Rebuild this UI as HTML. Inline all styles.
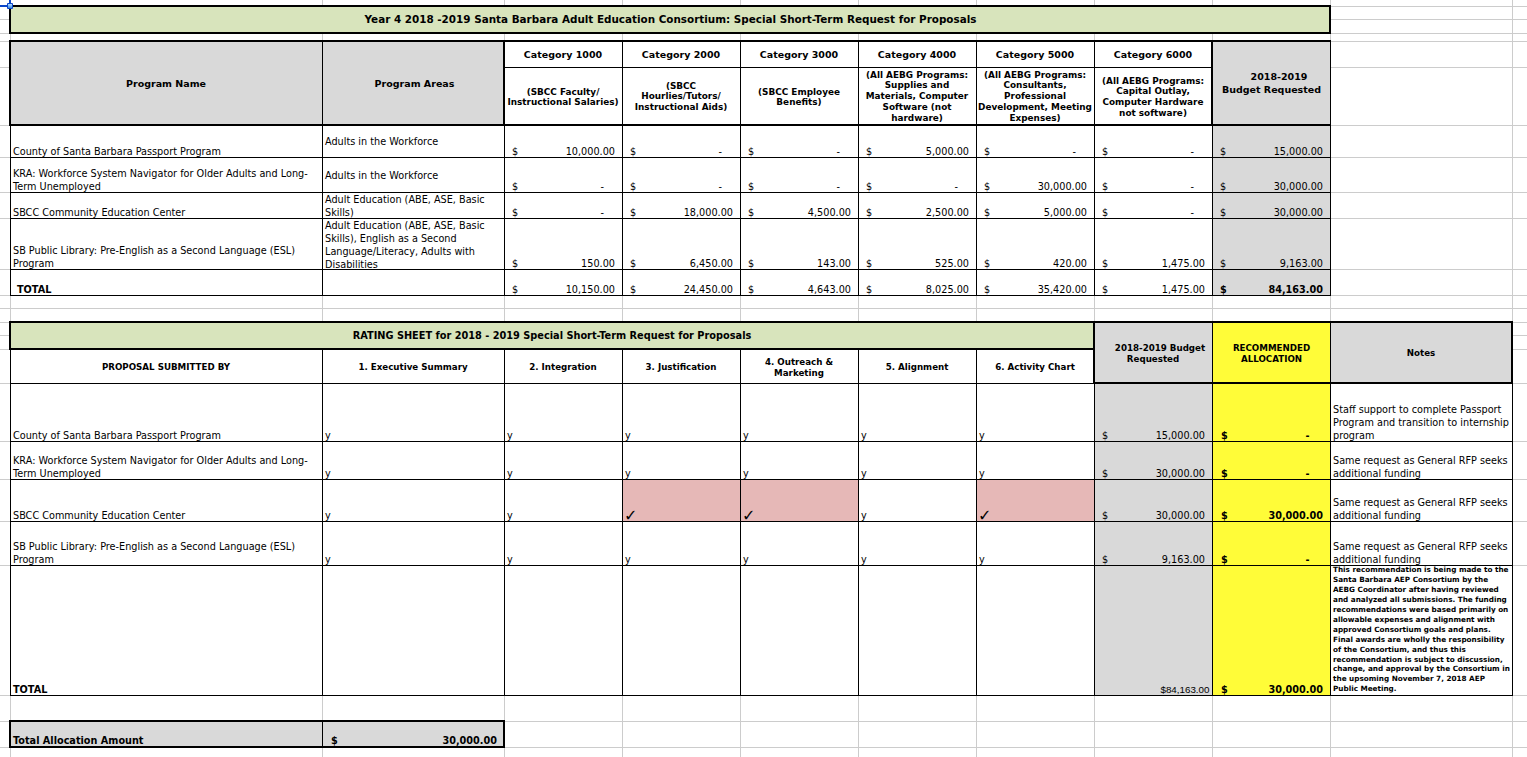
<!DOCTYPE html>
<html><head><meta charset="utf-8"><title>Rating Sheet</title><style>
*{margin:0;padding:0;box-sizing:border-box}
html,body{width:1527px;height:757px;overflow:hidden;background:#fff}
body{position:relative;font-family:"DejaVu Sans", "Liberation Sans", sans-serif;color:#000}
.r{position:absolute}
.t{position:absolute;white-space:pre;}
.t1{font-weight:bold;font-size:10.4px}
.t2{font-weight:bold;font-size:9.78px}
.bh{font-weight:bold;font-size:9.5px}
.bd{font-weight:bold;font-size:8.9px}
.bs{font-weight:bold;font-size:8.7px}
.rg{font-weight:normal;font-size:9.7px}
.bb{font-weight:bold;font-size:9.7px}
.sm{font-weight:bold;font-size:7.25px}
.ck{font-weight:bold;font-size:16px}
.nr{font-weight:normal;font-size:9.8px}
.nr{font-family:"Liberation Sans",sans-serif}</style></head>
<body>
<div class="r" style="left:0px;top:6px;width:1527px;height:1px;background:#cccccc"></div><div class="r" style="left:0px;top:19px;width:1527px;height:1px;background:#cccccc"></div><div class="r" style="left:0px;top:33px;width:1527px;height:1px;background:#cccccc"></div><div class="r" style="left:0px;top:41px;width:1527px;height:1px;background:#cccccc"></div><div class="r" style="left:0px;top:67px;width:1527px;height:1px;background:#cccccc"></div><div class="r" style="left:0px;top:125px;width:1527px;height:1px;background:#cccccc"></div><div class="r" style="left:0px;top:157px;width:1527px;height:1px;background:#cccccc"></div><div class="r" style="left:0px;top:192px;width:1527px;height:1px;background:#cccccc"></div><div class="r" style="left:0px;top:218px;width:1527px;height:1px;background:#cccccc"></div><div class="r" style="left:0px;top:269px;width:1527px;height:1px;background:#cccccc"></div><div class="r" style="left:0px;top:295px;width:1527px;height:1px;background:#cccccc"></div><div class="r" style="left:0px;top:308px;width:1527px;height:1px;background:#cccccc"></div><div class="r" style="left:0px;top:322px;width:1527px;height:1px;background:#cccccc"></div><div class="r" style="left:0px;top:335px;width:1527px;height:1px;background:#cccccc"></div><div class="r" style="left:0px;top:349px;width:1527px;height:1px;background:#cccccc"></div><div class="r" style="left:0px;top:383px;width:1527px;height:1px;background:#cccccc"></div><div class="r" style="left:0px;top:441px;width:1527px;height:1px;background:#cccccc"></div><div class="r" style="left:0px;top:479px;width:1527px;height:1px;background:#cccccc"></div><div class="r" style="left:0px;top:521px;width:1527px;height:1px;background:#cccccc"></div><div class="r" style="left:0px;top:565px;width:1527px;height:1px;background:#cccccc"></div><div class="r" style="left:0px;top:695px;width:1527px;height:1px;background:#cccccc"></div><div class="r" style="left:0px;top:721px;width:1527px;height:1px;background:#cccccc"></div><div class="r" style="left:0px;top:747px;width:1527px;height:1px;background:#cccccc"></div><div class="r" style="left:10px;top:0px;width:1px;height:757px;background:#cccccc"></div><div class="r" style="left:322px;top:0px;width:1px;height:757px;background:#cccccc"></div><div class="r" style="left:504px;top:0px;width:1px;height:757px;background:#cccccc"></div><div class="r" style="left:622px;top:0px;width:1px;height:757px;background:#cccccc"></div><div class="r" style="left:740px;top:0px;width:1px;height:757px;background:#cccccc"></div><div class="r" style="left:858px;top:0px;width:1px;height:757px;background:#cccccc"></div><div class="r" style="left:976px;top:0px;width:1px;height:757px;background:#cccccc"></div><div class="r" style="left:1094px;top:0px;width:1px;height:757px;background:#cccccc"></div><div class="r" style="left:1212px;top:0px;width:1px;height:757px;background:#cccccc"></div><div class="r" style="left:1330px;top:0px;width:1px;height:757px;background:#cccccc"></div><div class="r" style="left:1512px;top:0px;width:1px;height:757px;background:#cccccc"></div><div class="r" style="left:10px;top:6px;width:1321px;height:28px;background:#d8e4bc"></div><div class="r" style="left:10px;top:41px;width:1321px;height:255px;background:#fff"></div><div class="r" style="left:10px;top:41px;width:495px;height:85px;background:#d9d9d9"></div><div class="r" style="left:1212px;top:41px;width:119px;height:255px;background:#d9d9d9"></div><div class="r" style="left:10px;top:322px;width:1503px;height:374px;background:#fff"></div><div class="r" style="left:10px;top:322px;width:1085px;height:28px;background:#d8e4bc"></div><div class="r" style="left:1094px;top:322px;width:119px;height:374px;background:#d9d9d9"></div><div class="r" style="left:1212px;top:322px;width:119px;height:374px;background:#fffc38"></div><div class="r" style="left:1330px;top:322px;width:183px;height:62px;background:#d9d9d9"></div><div class="r" style="left:622px;top:479px;width:119px;height:43px;background:#e6b8b7"></div><div class="r" style="left:740px;top:479px;width:119px;height:43px;background:#e6b8b7"></div><div class="r" style="left:976px;top:479px;width:119px;height:43px;background:#e6b8b7"></div><div class="r" style="left:10px;top:721px;width:495px;height:27px;background:#d9d9d9"></div><div class="r" style="left:9px;top:5px;width:1322px;height:2px;background:#000"></div><div class="r" style="left:9px;top:32px;width:1322px;height:2px;background:#000"></div><div class="r" style="left:9px;top:5px;width:2px;height:29px;background:#000"></div><div class="r" style="left:1329px;top:5px;width:2px;height:29px;background:#000"></div><div class="r" style="left:9px;top:40px;width:1322px;height:2px;background:#000"></div><div class="r" style="left:9px;top:124px;width:1322px;height:2px;background:#000"></div><div class="r" style="left:9px;top:40px;width:2px;height:86px;background:#000"></div><div class="r" style="left:503px;top:40px;width:2px;height:86px;background:#000"></div><div class="r" style="left:1211px;top:40px;width:2px;height:86px;background:#000"></div><div class="r" style="left:1330px;top:41px;width:1px;height:85px;background:#000"></div><div class="r" style="left:322px;top:41px;width:1px;height:85px;background:#000"></div><div class="r" style="left:622px;top:41px;width:1px;height:85px;background:#000"></div><div class="r" style="left:740px;top:41px;width:1px;height:85px;background:#000"></div><div class="r" style="left:858px;top:41px;width:1px;height:85px;background:#000"></div><div class="r" style="left:976px;top:41px;width:1px;height:85px;background:#000"></div><div class="r" style="left:1094px;top:41px;width:1px;height:85px;background:#000"></div><div class="r" style="left:504px;top:67px;width:709px;height:1px;background:#000"></div><div class="r" style="left:10px;top:157px;width:1321px;height:1px;background:#000"></div><div class="r" style="left:10px;top:192px;width:1321px;height:1px;background:#000"></div><div class="r" style="left:10px;top:218px;width:1321px;height:1px;background:#000"></div><div class="r" style="left:10px;top:269px;width:1321px;height:1px;background:#000"></div><div class="r" style="left:10px;top:295px;width:1321px;height:1px;background:#000"></div><div class="r" style="left:10px;top:125px;width:1px;height:171px;background:#000"></div><div class="r" style="left:322px;top:125px;width:1px;height:171px;background:#000"></div><div class="r" style="left:504px;top:125px;width:1px;height:171px;background:#000"></div><div class="r" style="left:622px;top:125px;width:1px;height:171px;background:#000"></div><div class="r" style="left:740px;top:125px;width:1px;height:171px;background:#000"></div><div class="r" style="left:858px;top:125px;width:1px;height:171px;background:#000"></div><div class="r" style="left:976px;top:125px;width:1px;height:171px;background:#000"></div><div class="r" style="left:1094px;top:125px;width:1px;height:171px;background:#000"></div><div class="r" style="left:1212px;top:125px;width:1px;height:171px;background:#000"></div><div class="r" style="left:1330px;top:125px;width:1px;height:171px;background:#000"></div><div class="r" style="left:9px;top:321px;width:1504px;height:2px;background:#000"></div><div class="r" style="left:9px;top:348px;width:1086px;height:2px;background:#000"></div><div class="r" style="left:9px;top:321px;width:2px;height:29px;background:#000"></div><div class="r" style="left:1093px;top:321px;width:2px;height:63px;background:#000"></div><div class="r" style="left:1511px;top:321px;width:2px;height:63px;background:#000"></div><div class="r" style="left:1093px;top:382px;width:420px;height:2px;background:#000"></div><div class="r" style="left:1212px;top:322px;width:1px;height:62px;background:#000"></div><div class="r" style="left:1330px;top:322px;width:1px;height:62px;background:#000"></div><div class="r" style="left:322px;top:349px;width:1px;height:35px;background:#000"></div><div class="r" style="left:504px;top:349px;width:1px;height:35px;background:#000"></div><div class="r" style="left:622px;top:349px;width:1px;height:35px;background:#000"></div><div class="r" style="left:740px;top:349px;width:1px;height:35px;background:#000"></div><div class="r" style="left:858px;top:349px;width:1px;height:35px;background:#000"></div><div class="r" style="left:976px;top:349px;width:1px;height:35px;background:#000"></div><div class="r" style="left:10px;top:349px;width:1px;height:347px;background:#000"></div><div class="r" style="left:10px;top:383px;width:1085px;height:1px;background:#000"></div><div class="r" style="left:10px;top:441px;width:1503px;height:1px;background:#000"></div><div class="r" style="left:10px;top:479px;width:1503px;height:1px;background:#000"></div><div class="r" style="left:10px;top:521px;width:1503px;height:1px;background:#000"></div><div class="r" style="left:10px;top:565px;width:1503px;height:1px;background:#000"></div><div class="r" style="left:10px;top:695px;width:1503px;height:1px;background:#000"></div><div class="r" style="left:322px;top:383px;width:1px;height:313px;background:#000"></div><div class="r" style="left:504px;top:383px;width:1px;height:313px;background:#000"></div><div class="r" style="left:622px;top:383px;width:1px;height:313px;background:#000"></div><div class="r" style="left:740px;top:383px;width:1px;height:313px;background:#000"></div><div class="r" style="left:858px;top:383px;width:1px;height:313px;background:#000"></div><div class="r" style="left:976px;top:383px;width:1px;height:313px;background:#000"></div><div class="r" style="left:1094px;top:383px;width:1px;height:313px;background:#000"></div><div class="r" style="left:1212px;top:383px;width:1px;height:313px;background:#000"></div><div class="r" style="left:1330px;top:383px;width:1px;height:313px;background:#000"></div><div class="r" style="left:1512px;top:383px;width:1px;height:313px;background:#000"></div><div class="r" style="left:9px;top:720px;width:496px;height:2px;background:#000"></div><div class="r" style="left:9px;top:746px;width:496px;height:2px;background:#000"></div><div class="r" style="left:9px;top:720px;width:2px;height:28px;background:#000"></div><div class="r" style="left:503px;top:720px;width:2px;height:28px;background:#000"></div><div class="r" style="left:322px;top:721px;width:1px;height:27px;background:#000"></div>
<div class="t t1" style="top:13.16px;line-height:12.48px;left:-29.5px;width:1400px;text-align:center;">Year 4 2018 -2019 Santa Barbara Adult Education Consortium: Special Short-Term Request for Proposals</div>
<div class="t bh" style="top:78.01px;line-height:11.4px;left:-534.0px;width:1400px;text-align:center;">Program Name</div>
<div class="t bh" style="top:78.01px;line-height:11.4px;left:-285.5px;width:1400px;text-align:center;">Program Areas</div>
<div class="t bh" style="top:49.01px;line-height:11.4px;left:-137.0px;width:1400px;text-align:center;">Category 1000</div>
<div class="t bh" style="top:49.01px;line-height:11.4px;left:-19.0px;width:1400px;text-align:center;">Category 2000</div>
<div class="t bh" style="top:49.01px;line-height:11.4px;left:99.0px;width:1400px;text-align:center;">Category 3000</div>
<div class="t bh" style="top:49.01px;line-height:11.4px;left:217.0px;width:1400px;text-align:center;">Category 4000</div>
<div class="t bh" style="top:49.01px;line-height:11.4px;left:335.0px;width:1400px;text-align:center;">Category 5000</div>
<div class="t bh" style="top:49.01px;line-height:11.4px;left:453.0px;width:1400px;text-align:center;">Category 6000</div>
<div class="t bd" style="top:86.58px;line-height:10.68px;left:-137.0px;width:1400px;text-align:center;">(SBCC Faculty/</div>
<div class="t bd" style="top:97.48px;line-height:10.68px;left:-137.0px;width:1400px;text-align:center;">Instructional Salaries)</div>
<div class="t bd" style="top:80.58px;line-height:10.68px;left:-19.0px;width:1400px;text-align:center;">(SBCC</div>
<div class="t bd" style="top:91.48px;line-height:10.68px;left:-19.0px;width:1400px;text-align:center;">Hourlies/Tutors/</div>
<div class="t bd" style="top:102.38px;line-height:10.68px;left:-19.0px;width:1400px;text-align:center;">Instructional Aids)</div>
<div class="t bd" style="top:86.58px;line-height:10.68px;left:99.0px;width:1400px;text-align:center;">(SBCC Employee</div>
<div class="t bd" style="top:97.48px;line-height:10.68px;left:99.0px;width:1400px;text-align:center;">Benefits)</div>
<div class="t bd" style="top:69.58px;line-height:10.68px;left:217.0px;width:1400px;text-align:center;">(All AEBG Programs:</div>
<div class="t bd" style="top:80.48px;line-height:10.68px;left:217.0px;width:1400px;text-align:center;">Supplies and</div>
<div class="t bd" style="top:91.38px;line-height:10.68px;left:217.0px;width:1400px;text-align:center;">Materials, Computer</div>
<div class="t bd" style="top:102.28px;line-height:10.68px;left:217.0px;width:1400px;text-align:center;">Software (not</div>
<div class="t bd" style="top:113.18px;line-height:10.68px;left:217.0px;width:1400px;text-align:center;">hardware)</div>
<div class="t bd" style="top:69.58px;line-height:10.68px;left:335.0px;width:1400px;text-align:center;">(All AEBG Programs:</div>
<div class="t bd" style="top:80.48px;line-height:10.68px;left:335.0px;width:1400px;text-align:center;">Consultants,</div>
<div class="t bd" style="top:91.38px;line-height:10.68px;left:335.0px;width:1400px;text-align:center;">Professional</div>
<div class="t bd" style="top:102.28px;line-height:10.68px;left:335.0px;width:1400px;text-align:center;">Development, Meeting</div>
<div class="t bd" style="top:113.18px;line-height:10.68px;left:335.0px;width:1400px;text-align:center;">Expenses)</div>
<div class="t bd" style="top:75.58px;line-height:10.68px;left:453.0px;width:1400px;text-align:center;">(All AEBG Programs:</div>
<div class="t bd" style="top:86.48px;line-height:10.68px;left:453.0px;width:1400px;text-align:center;">Capital Outlay,</div>
<div class="t bd" style="top:97.38px;line-height:10.68px;left:453.0px;width:1400px;text-align:center;">Computer Hardware</div>
<div class="t bd" style="top:108.28px;line-height:10.68px;left:453.0px;width:1400px;text-align:center;">not software)</div>
<div class="t bh" style="top:71.01px;line-height:11.4px;left:579.0px;width:1400px;text-align:center;">2018-2019</div>
<div class="t bh" style="top:83.51px;line-height:11.4px;left:571.5px;width:1400px;text-align:center;">Budget Requested</div>
<div class="t rg" style="top:145.82px;line-height:11.64px;left:13px;">County of Santa Barbara Passport Program</div>
<div class="t rg" style="top:135.82px;line-height:11.64px;left:325px;">Adults in the Workforce</div>
<div class="t rg" style="top:145.82px;line-height:11.64px;left:512px;">$</div>
<div class="t rg" style="top:145.82px;line-height:11.64px;right:912px;text-align:right;">10,000.00</div>
<div class="t rg" style="top:145.82px;line-height:11.64px;left:630px;">$</div>
<div class="t rg" style="top:145.82px;line-height:11.64px;right:805px;text-align:right;">-</div>
<div class="t rg" style="top:145.82px;line-height:11.64px;left:748px;">$</div>
<div class="t rg" style="top:145.82px;line-height:11.64px;right:687px;text-align:right;">-</div>
<div class="t rg" style="top:145.82px;line-height:11.64px;left:866px;">$</div>
<div class="t rg" style="top:145.82px;line-height:11.64px;right:558px;text-align:right;">5,000.00</div>
<div class="t rg" style="top:145.82px;line-height:11.64px;left:984px;">$</div>
<div class="t rg" style="top:145.82px;line-height:11.64px;right:451px;text-align:right;">-</div>
<div class="t rg" style="top:145.82px;line-height:11.64px;left:1102px;">$</div>
<div class="t rg" style="top:145.82px;line-height:11.64px;right:333px;text-align:right;">-</div>
<div class="t rg" style="top:145.82px;line-height:11.64px;left:1220px;">$</div>
<div class="t rg" style="top:145.82px;line-height:11.64px;right:204px;text-align:right;">15,000.00</div>
<div class="t rg" style="top:167.82px;line-height:11.64px;left:13px;">KRA: Workforce System Navigator for Older Adults and Long-</div>
<div class="t rg" style="top:180.82px;line-height:11.64px;left:13px;">Term Unemployed</div>
<div class="t rg" style="top:169.82px;line-height:11.64px;left:325px;">Adults in the Workforce</div>
<div class="t rg" style="top:180.82px;line-height:11.64px;left:512px;">$</div>
<div class="t rg" style="top:180.82px;line-height:11.64px;right:923px;text-align:right;">-</div>
<div class="t rg" style="top:180.82px;line-height:11.64px;left:630px;">$</div>
<div class="t rg" style="top:180.82px;line-height:11.64px;right:805px;text-align:right;">-</div>
<div class="t rg" style="top:180.82px;line-height:11.64px;left:748px;">$</div>
<div class="t rg" style="top:180.82px;line-height:11.64px;right:687px;text-align:right;">-</div>
<div class="t rg" style="top:180.82px;line-height:11.64px;left:866px;">$</div>
<div class="t rg" style="top:180.82px;line-height:11.64px;right:569px;text-align:right;">-</div>
<div class="t rg" style="top:180.82px;line-height:11.64px;left:984px;">$</div>
<div class="t rg" style="top:180.82px;line-height:11.64px;right:440px;text-align:right;">30,000.00</div>
<div class="t rg" style="top:180.82px;line-height:11.64px;left:1102px;">$</div>
<div class="t rg" style="top:180.82px;line-height:11.64px;right:333px;text-align:right;">-</div>
<div class="t rg" style="top:180.82px;line-height:11.64px;left:1220px;">$</div>
<div class="t rg" style="top:180.82px;line-height:11.64px;right:204px;text-align:right;">30,000.00</div>
<div class="t rg" style="top:206.82px;line-height:11.64px;left:13px;">SBCC Community Education Center</div>
<div class="t rg" style="top:193.82px;line-height:11.64px;left:325px;">Adult Education (ABE, ASE, Basic</div>
<div class="t rg" style="top:206.82px;line-height:11.64px;left:325px;">Skills)</div>
<div class="t rg" style="top:206.82px;line-height:11.64px;left:512px;">$</div>
<div class="t rg" style="top:206.82px;line-height:11.64px;right:923px;text-align:right;">-</div>
<div class="t rg" style="top:206.82px;line-height:11.64px;left:630px;">$</div>
<div class="t rg" style="top:206.82px;line-height:11.64px;right:794px;text-align:right;">18,000.00</div>
<div class="t rg" style="top:206.82px;line-height:11.64px;left:748px;">$</div>
<div class="t rg" style="top:206.82px;line-height:11.64px;right:676px;text-align:right;">4,500.00</div>
<div class="t rg" style="top:206.82px;line-height:11.64px;left:866px;">$</div>
<div class="t rg" style="top:206.82px;line-height:11.64px;right:558px;text-align:right;">2,500.00</div>
<div class="t rg" style="top:206.82px;line-height:11.64px;left:984px;">$</div>
<div class="t rg" style="top:206.82px;line-height:11.64px;right:440px;text-align:right;">5,000.00</div>
<div class="t rg" style="top:206.82px;line-height:11.64px;left:1102px;">$</div>
<div class="t rg" style="top:206.82px;line-height:11.64px;right:333px;text-align:right;">-</div>
<div class="t rg" style="top:206.82px;line-height:11.64px;left:1220px;">$</div>
<div class="t rg" style="top:206.82px;line-height:11.64px;right:204px;text-align:right;">30,000.00</div>
<div class="t rg" style="top:244.82px;line-height:11.64px;left:13px;">SB Public Library: Pre-English as a Second Language (ESL)</div>
<div class="t rg" style="top:257.82px;line-height:11.64px;left:13px;">Program</div>
<div class="t rg" style="top:219.82px;line-height:11.64px;left:325px;">Adult Education (ABE, ASE, Basic</div>
<div class="t rg" style="top:232.82px;line-height:11.64px;left:325px;">Skills), English as a Second</div>
<div class="t rg" style="top:245.82px;line-height:11.64px;left:325px;">Language/Literacy, Adults with</div>
<div class="t rg" style="top:258.82px;line-height:11.64px;left:325px;">Disabilities</div>
<div class="t rg" style="top:257.82px;line-height:11.64px;left:512px;">$</div>
<div class="t rg" style="top:257.82px;line-height:11.64px;right:912px;text-align:right;">150.00</div>
<div class="t rg" style="top:257.82px;line-height:11.64px;left:630px;">$</div>
<div class="t rg" style="top:257.82px;line-height:11.64px;right:794px;text-align:right;">6,450.00</div>
<div class="t rg" style="top:257.82px;line-height:11.64px;left:748px;">$</div>
<div class="t rg" style="top:257.82px;line-height:11.64px;right:676px;text-align:right;">143.00</div>
<div class="t rg" style="top:257.82px;line-height:11.64px;left:866px;">$</div>
<div class="t rg" style="top:257.82px;line-height:11.64px;right:558px;text-align:right;">525.00</div>
<div class="t rg" style="top:257.82px;line-height:11.64px;left:984px;">$</div>
<div class="t rg" style="top:257.82px;line-height:11.64px;right:440px;text-align:right;">420.00</div>
<div class="t rg" style="top:257.82px;line-height:11.64px;left:1102px;">$</div>
<div class="t rg" style="top:257.82px;line-height:11.64px;right:322px;text-align:right;">1,475.00</div>
<div class="t rg" style="top:257.82px;line-height:11.64px;left:1220px;">$</div>
<div class="t rg" style="top:257.82px;line-height:11.64px;right:204px;text-align:right;">9,163.00</div>
<div class="t bb" style="top:283.82px;line-height:11.64px;left:17px;">TOTAL</div>
<div class="t rg" style="top:283.82px;line-height:11.64px;left:512px;">$</div>
<div class="t rg" style="top:283.82px;line-height:11.64px;right:912px;text-align:right;">10,150.00</div>
<div class="t rg" style="top:283.82px;line-height:11.64px;left:630px;">$</div>
<div class="t rg" style="top:283.82px;line-height:11.64px;right:794px;text-align:right;">24,450.00</div>
<div class="t rg" style="top:283.82px;line-height:11.64px;left:748px;">$</div>
<div class="t rg" style="top:283.82px;line-height:11.64px;right:676px;text-align:right;">4,643.00</div>
<div class="t rg" style="top:283.82px;line-height:11.64px;left:866px;">$</div>
<div class="t rg" style="top:283.82px;line-height:11.64px;right:558px;text-align:right;">8,025.00</div>
<div class="t rg" style="top:283.82px;line-height:11.64px;left:984px;">$</div>
<div class="t rg" style="top:283.82px;line-height:11.64px;right:440px;text-align:right;">35,420.00</div>
<div class="t rg" style="top:283.82px;line-height:11.64px;left:1102px;">$</div>
<div class="t rg" style="top:283.82px;line-height:11.64px;right:322px;text-align:right;">1,475.00</div>
<div class="t bb" style="top:283.82px;line-height:11.64px;left:1220px;">$</div>
<div class="t bb" style="top:283.82px;line-height:11.64px;right:204px;text-align:right;">84,163.00</div>
<div class="t t2" style="top:329.75px;line-height:11.74px;left:-148.0px;width:1400px;text-align:center;">RATING SHEET for 2018 - 2019 Special Short-Term Request for Proposals</div>
<div class="t bs" style="top:361.77px;line-height:10.44px;left:-534.0px;width:1400px;text-align:center;">PROPOSAL SUBMITTED BY</div>
<div class="t bs" style="top:361.77px;line-height:10.44px;left:-287.0px;width:1400px;text-align:center;">1. Executive Summary</div>
<div class="t bs" style="top:361.77px;line-height:10.44px;left:-137.0px;width:1400px;text-align:center;">2. Integration</div>
<div class="t bs" style="top:361.77px;line-height:10.44px;left:-19.0px;width:1400px;text-align:center;">3. Justification</div>
<div class="t bs" style="top:361.77px;line-height:10.44px;left:217.0px;width:1400px;text-align:center;">5. Alignment</div>
<div class="t bs" style="top:361.77px;line-height:10.44px;left:335.0px;width:1400px;text-align:center;">6. Activity Chart</div>
<div class="t bs" style="top:356.77px;line-height:10.44px;left:99.0px;width:1400px;text-align:center;">4. Outreach &amp;</div>
<div class="t bs" style="top:367.77px;line-height:10.44px;left:99.0px;width:1400px;text-align:center;">Marketing</div>
<div class="t bs" style="top:342.77px;line-height:10.44px;left:460.0px;width:1400px;text-align:center;">2018-2019 Budget</div>
<div class="t bs" style="top:353.77px;line-height:10.44px;left:453.0px;width:1400px;text-align:center;">Requested</div>
<div class="t bs" style="top:342.77px;line-height:10.44px;left:571.5px;width:1400px;text-align:center;">RECOMMENDED</div>
<div class="t bs" style="top:353.77px;line-height:10.44px;left:571.5px;width:1400px;text-align:center;">ALLOCATION</div>
<div class="t bs" style="top:347.77px;line-height:10.44px;left:721.0px;width:1400px;text-align:center;">Notes</div>
<div class="t rg" style="top:429.82px;line-height:11.64px;left:13px;">County of Santa Barbara Passport Program</div>
<div class="t rg" style="top:429.82px;line-height:11.64px;left:325px;">y</div>
<div class="t rg" style="top:429.82px;line-height:11.64px;left:507px;">y</div>
<div class="t rg" style="top:429.82px;line-height:11.64px;left:625px;">y</div>
<div class="t rg" style="top:429.82px;line-height:11.64px;left:743px;">y</div>
<div class="t rg" style="top:429.82px;line-height:11.64px;left:861px;">y</div>
<div class="t rg" style="top:429.82px;line-height:11.64px;left:979px;">y</div>
<div class="t rg" style="top:429.82px;line-height:11.64px;left:1102px;">$</div>
<div class="t rg" style="top:429.82px;line-height:11.64px;right:322px;text-align:right;">15,000.00</div>
<div class="t bb" style="top:429.82px;line-height:11.64px;left:1221px;">$</div>
<div class="t bb" style="top:429.82px;line-height:11.64px;right:217.5px;text-align:right;">-</div>
<div class="t rg" style="top:404.22px;line-height:11.64px;left:1333px;">Staff support to complete Passport</div>
<div class="t rg" style="top:417.02px;line-height:11.64px;left:1333px;">Program and transition to internship</div>
<div class="t rg" style="top:429.82px;line-height:11.64px;left:1333px;">program</div>
<div class="t rg" style="top:454.82px;line-height:11.64px;left:13px;">KRA: Workforce System Navigator for Older Adults and Long-</div>
<div class="t rg" style="top:467.82px;line-height:11.64px;left:13px;">Term Unemployed</div>
<div class="t rg" style="top:467.82px;line-height:11.64px;left:325px;">y</div>
<div class="t rg" style="top:467.82px;line-height:11.64px;left:507px;">y</div>
<div class="t rg" style="top:467.82px;line-height:11.64px;left:625px;">y</div>
<div class="t rg" style="top:467.82px;line-height:11.64px;left:743px;">y</div>
<div class="t rg" style="top:467.82px;line-height:11.64px;left:861px;">y</div>
<div class="t rg" style="top:467.82px;line-height:11.64px;left:979px;">y</div>
<div class="t rg" style="top:467.82px;line-height:11.64px;left:1102px;">$</div>
<div class="t rg" style="top:467.82px;line-height:11.64px;right:322px;text-align:right;">30,000.00</div>
<div class="t bb" style="top:467.82px;line-height:11.64px;left:1221px;">$</div>
<div class="t bb" style="top:467.82px;line-height:11.64px;right:217.5px;text-align:right;">-</div>
<div class="t rg" style="top:455.02px;line-height:11.64px;left:1333px;">Same request as General RFP seeks</div>
<div class="t rg" style="top:467.82px;line-height:11.64px;left:1333px;">additional funding</div>
<div class="t rg" style="top:509.82px;line-height:11.64px;left:13px;">SBCC Community Education Center</div>
<div class="t rg" style="top:509.82px;line-height:11.64px;left:325px;">y</div>
<div class="t rg" style="top:509.82px;line-height:11.64px;left:507px;">y</div>
<div class="t ck" style="top:505.86px;line-height:19.2px;left:624px;">✓</div>
<div class="t ck" style="top:505.86px;line-height:19.2px;left:742px;">✓</div>
<div class="t rg" style="top:509.82px;line-height:11.64px;left:861px;">y</div>
<div class="t ck" style="top:505.86px;line-height:19.2px;left:978px;">✓</div>
<div class="t rg" style="top:509.82px;line-height:11.64px;left:1102px;">$</div>
<div class="t rg" style="top:509.82px;line-height:11.64px;right:322px;text-align:right;">30,000.00</div>
<div class="t bb" style="top:509.82px;line-height:11.64px;left:1221px;">$</div>
<div class="t bb" style="top:509.82px;line-height:11.64px;right:204px;text-align:right;">30,000.00</div>
<div class="t rg" style="top:497.02px;line-height:11.64px;left:1333px;">Same request as General RFP seeks</div>
<div class="t rg" style="top:509.82px;line-height:11.64px;left:1333px;">additional funding</div>
<div class="t rg" style="top:540.82px;line-height:11.64px;left:13px;">SB Public Library: Pre-English as a Second Language (ESL)</div>
<div class="t rg" style="top:553.82px;line-height:11.64px;left:13px;">Program</div>
<div class="t rg" style="top:553.82px;line-height:11.64px;left:325px;">y</div>
<div class="t rg" style="top:553.82px;line-height:11.64px;left:507px;">y</div>
<div class="t rg" style="top:553.82px;line-height:11.64px;left:625px;">y</div>
<div class="t rg" style="top:553.82px;line-height:11.64px;left:743px;">y</div>
<div class="t rg" style="top:553.82px;line-height:11.64px;left:861px;">y</div>
<div class="t rg" style="top:553.82px;line-height:11.64px;left:979px;">y</div>
<div class="t rg" style="top:553.82px;line-height:11.64px;left:1102px;">$</div>
<div class="t rg" style="top:553.82px;line-height:11.64px;right:322px;text-align:right;">9,163.00</div>
<div class="t bb" style="top:553.82px;line-height:11.64px;left:1221px;">$</div>
<div class="t bb" style="top:553.82px;line-height:11.64px;right:217.5px;text-align:right;">-</div>
<div class="t rg" style="top:541.02px;line-height:11.64px;left:1333px;">Same request as General RFP seeks</div>
<div class="t rg" style="top:553.82px;line-height:11.64px;left:1333px;">additional funding</div>
<div class="t bb" style="top:683.82px;line-height:11.64px;left:13px;">TOTAL</div>
<div class="t nr" style="top:683.73px;line-height:11.76px;right:317.5px;text-align:right;">$84,163.00</div>
<div class="t bb" style="top:683.82px;line-height:11.64px;left:1221px;">$</div>
<div class="t bb" style="top:683.82px;line-height:11.64px;right:204px;text-align:right;">30,000.00</div>
<div class="t sm" style="top:566.14px;line-height:8.7px;left:1333px;">This recommendation is being made to the</div>
<div class="t sm" style="top:576.07px;line-height:8.7px;left:1333px;">Santa Barbara AEP Consortium by the</div>
<div class="t sm" style="top:586.00px;line-height:8.7px;left:1333px;">AEBG Coordinator after having reviewed</div>
<div class="t sm" style="top:595.93px;line-height:8.7px;left:1333px;">and analyzed all submissions. The funding</div>
<div class="t sm" style="top:605.86px;line-height:8.7px;left:1333px;">recommendations were based primarily on</div>
<div class="t sm" style="top:615.79px;line-height:8.7px;left:1333px;">allowable expenses and alignment with</div>
<div class="t sm" style="top:625.72px;line-height:8.7px;left:1333px;">approved Consortium goals and plans.</div>
<div class="t sm" style="top:635.65px;line-height:8.7px;left:1333px;">Final awards are wholly the responsibility</div>
<div class="t sm" style="top:645.58px;line-height:8.7px;left:1333px;">of the Consortium, and thus this</div>
<div class="t sm" style="top:655.51px;line-height:8.7px;left:1333px;">recommendation is subject to discussion,</div>
<div class="t sm" style="top:665.44px;line-height:8.7px;left:1333px;">change, and approval by the Consortium in</div>
<div class="t sm" style="top:675.37px;line-height:8.7px;left:1333px;">the upsoming November 7, 2018 AEP</div>
<div class="t sm" style="top:685.30px;line-height:8.7px;left:1333px;">Public Meeting.</div>
<div class="t bb" style="top:734.82px;line-height:11.64px;left:13px;">Total Allocation Amount</div>
<div class="t bb" style="top:734.82px;line-height:11.64px;left:331px;">$</div>
<div class="t bb" style="top:734.82px;line-height:11.64px;right:1030px;text-align:right;">30,000.00</div>

<div class="r" style="left:0;top:5px;width:9px;height:2px;background:#0a45c8"></div>
<div class="r" style="left:9px;top:0;width:2px;height:4px;background:#0a45c8"></div>
<div class="r" style="left:7px;top:3px;width:6px;height:6px;background:#0a45c8;border-radius:1px"></div>
<div class="r" style="left:8px;top:4px;width:4px;height:4px;background:linear-gradient(#b5dcff,#3c8ae0)"></div>

</body></html>
